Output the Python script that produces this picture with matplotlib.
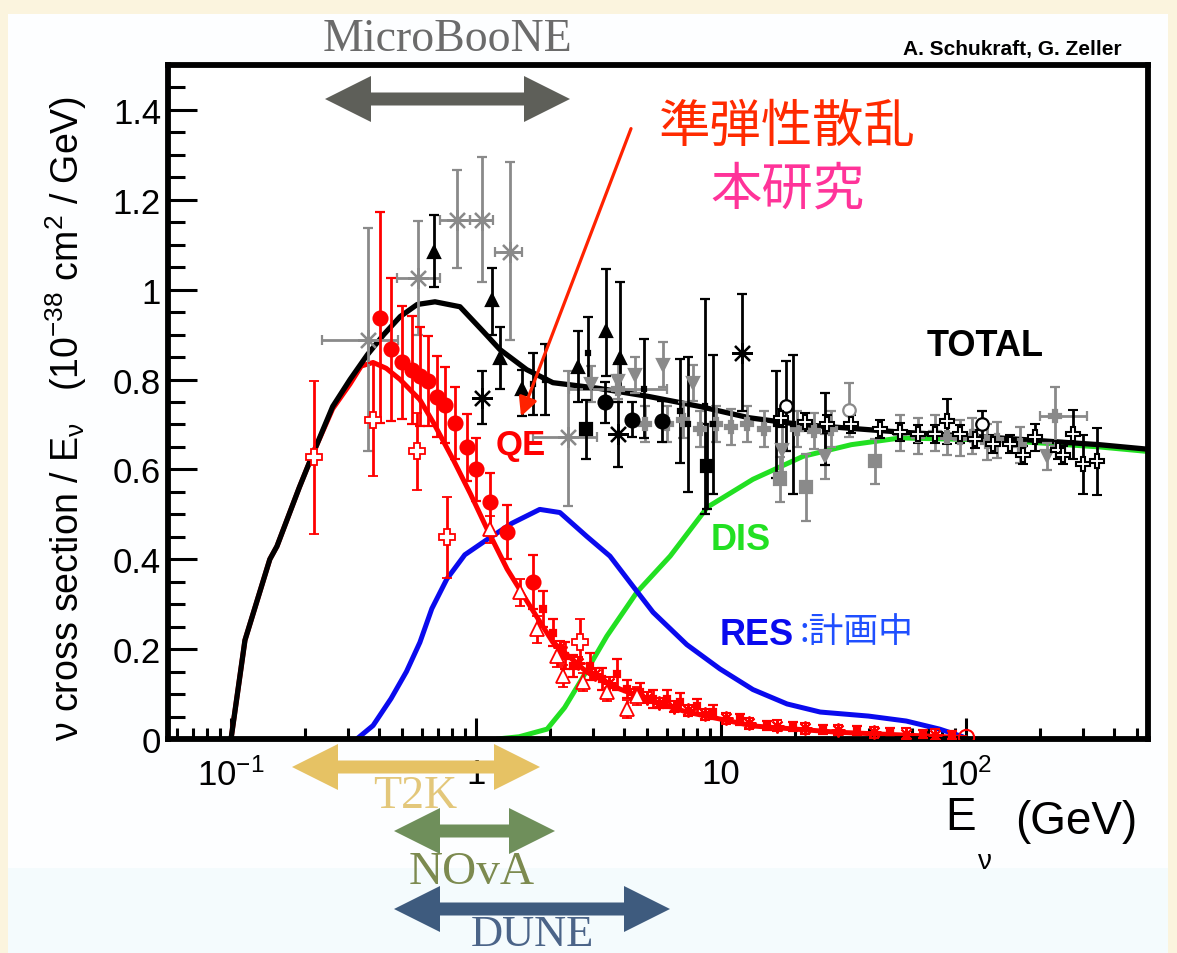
import numpy as np
import matplotlib
matplotlib.use("Agg")
import matplotlib.pyplot as plt
from matplotlib.patches import Polygon, Rectangle
from matplotlib.ticker import FixedLocator, FixedFormatter, LogLocator, MultipleLocator, NullFormatter

plt.rcParams['font.family'] = ['Liberation Sans', 'DejaVu Sans']
plt.rcParams['mathtext.fontset'] = 'custom'
plt.rcParams['mathtext.rm'] = 'Liberation Sans'
plt.rcParams['mathtext.it'] = 'Liberation Sans:italic'
plt.rcParams['mathtext.bf'] = 'Liberation Sans:bold'

W, H = 1177, 954

# --- model curves (E in GeV, sigma/E in 1e-38 cm^2/GeV) ---
total_x = [0.100, 0.114, 0.144, 0.154, 0.19, 0.216, 0.26, 0.306, 0.36, 0.42, 0.49, 0.575, 0.68,
           0.86, 1.07, 1.25, 1.61, 2.06, 3.2, 5.1, 8.2, 13, 21, 54, 137, 350, 550]
total_y = [0.0, 0.22, 0.40, 0.429, 0.56, 0.635, 0.74, 0.80, 0.855, 0.90, 0.94, 0.967, 0.973,
           0.962, 0.907, 0.867, 0.822, 0.793, 0.78, 0.762, 0.74, 0.715, 0.70, 0.683, 0.67, 0.655, 0.645]

qe_x = [0.100, 0.114, 0.144, 0.154, 0.19, 0.216, 0.26, 0.306, 0.34, 0.38, 0.43, 0.49, 0.59, 0.67,
        0.81, 0.95, 1.11, 1.34, 1.66, 2.06, 2.83, 3.87, 5.2, 7.25, 13.5, 30, 60, 100]
qe_y = [0.0, 0.22, 0.40, 0.429, 0.56, 0.635, 0.735, 0.79, 0.83, 0.838, 0.825, 0.80, 0.755, 0.704,
        0.62, 0.545, 0.467, 0.378, 0.296, 0.215, 0.149, 0.111, 0.085, 0.06, 0.029, 0.015, 0.008, 0.003]

res_x = [0.326, 0.38, 0.45, 0.52, 0.59, 0.66, 0.76, 0.9, 1.11, 1.4, 1.82, 2.2, 2.83, 3.52, 4.37,
         5.28, 7.25, 9.9, 13.5, 18.6, 25.4, 40, 57, 78, 97]
res_y = [0.0, 0.03, 0.09, 0.15, 0.215, 0.29, 0.356, 0.41, 0.444, 0.48, 0.511, 0.504, 0.451, 0.407,
         0.34, 0.282, 0.21, 0.156, 0.11, 0.078, 0.06, 0.051, 0.04, 0.022, 0.005]

dis_x = [1.22, 1.5, 1.95, 2.3, 2.66, 3.42, 4.54, 6.2, 8.8, 13.5, 21.6, 34, 54, 137, 350, 550]
dis_y = [0.0, 0.005, 0.022, 0.07, 0.127, 0.229, 0.327, 0.407, 0.516, 0.578, 0.629, 0.655, 0.67,
         0.665, 0.65, 0.64]

# --- QE data (red) ---
red_circ_x = [0.406, 0.45, 0.50, 0.548, 0.59, 0.637, 0.693, 0.747, 0.82, 0.918, 1.0, 1.14, 1.34, 1.71]
red_circ_y = [0.938, 0.867, 0.838, 0.822, 0.807, 0.796, 0.762, 0.744, 0.704, 0.649, 0.600, 0.527, 0.460, 0.349]
red_circ_e = [0.235, 0.16, 0.125, 0.12, 0.11, 0.10, 0.09, 0.085, 0.08, 0.075, 0.07, 0.065, 0.06, 0.06]

red_ocross_x = [0.218, 0.38, 0.575, 0.76, 2.66]
red_ocross_y = [0.627, 0.711, 0.640, 0.449, 0.216]
red_ocross_e = [0.17, 0.125, 0.085, 0.09, 0.05]

red_otri_x = [1.14, 1.51, 1.77, 2.14, 2.26, 2.73, 3.42, 4.13, 4.54]
red_otri_y = [0.467, 0.327, 0.244, 0.185, 0.140, 0.127, 0.104, 0.067, 0.096]
red_otri_e = [0.03, 0.03, 0.03, 0.025, 0.025, 0.02, 0.02, 0.02, 0.02]

red_sq_x = [1.88, 2.06, 2.31, 2.49, 2.92, 3.27, 3.76, 4.13, 4.67, 5.28, 6.0, 6.8, 8.0, 9.3,
            11.9, 15.4, 19.7, 26.1, 35.8, 49, 67, 88]
red_sq_y = [0.289, 0.237, 0.185, 0.162, 0.162, 0.133, 0.144, 0.111, 0.104, 0.089, 0.089, 0.082,
            0.073, 0.060, 0.044, 0.029, 0.027, 0.022, 0.018, 0.016, 0.011, 0.009]
red_sq_e = [0.04, 0.03, 0.03, 0.025, 0.03, 0.025, 0.035, 0.02, 0.02, 0.02, 0.02, 0.02, 0.015,
            0.015, 0.012, 0.01, 0.01, 0.01, 0.01, 0.008, 0.008, 0.008]

red_star_x = [2.2, 2.6, 3.05, 3.5, 4.4, 5.0, 5.6, 6.4, 7.3, 8.6, 10.5, 13.0, 17.0, 22.0, 30.0, 42.0, 57.0, 75.0]
red_star_y = [0.205, 0.17, 0.145, 0.125, 0.10, 0.092, 0.08, 0.072, 0.064, 0.055, 0.046, 0.035,
              0.03, 0.024, 0.02, 0.015, 0.012, 0.01]

red_ocirc_x = [100]
red_ocirc_y = [0.004]

# --- total cross section data (black) ---
blk_tri_x = [0.674, 1.16, 1.25, 1.54, 2.60, 3.39, 3.87]
blk_tri_y = [1.084, 0.978, 0.849, 0.778, 0.827, 0.907, 0.849]
blk_tri_elo = [0.077, 0.078, 0.071, 0.060, 0.078, 0.100, 0.071]
blk_tri_ehi = [0.083, 0.071, 0.069, 0.044, 0.080, 0.140, 0.169]

blk_star_x = [1.06, 3.80, 12.2]
blk_star_y = [0.760, 0.678, 0.860]
blk_star_e = [0.06, 0.072, 0.13]

blk_circ_x = [3.36, 4.33, 5.74]
blk_circ_y = [0.749, 0.711, 0.707]
blk_circ_e = [0.045, 0.04, 0.045]

blk_sq_x = [2.81, 8.77]
blk_sq_y = [0.689, 0.607]
blk_sq_e = [0.065, 0.095]

blk_bar_x = [1.71, 1.91, 2.87, 4.85, 6.8, 7.34, 8.6, 9.27, 16.7, 19.7, 26.5]
blk_bar_y = [0.79, 0.80, 0.86, 0.78, 0.73, 0.70, 0.74, 0.70, 0.70, 0.70, 0.69]
blk_bar_e = [0.07, 0.08, 0.08, 0.11, 0.115, 0.15, 0.24, 0.155, 0.12, 0.155, 0.08]

blk_ocross_x = [17.5, 22, 27, 34, 44.6, 53.7, 63.6, 74.8, 83.9, 94.6, 108.9, 128.8, 151, 171,
                191, 237, 248, 272, 299, 342]
blk_ocross_y = [0.715, 0.705, 0.70, 0.70, 0.689, 0.684, 0.678, 0.678, 0.707, 0.678, 0.667, 0.656,
                0.656, 0.633, 0.671, 0.644, 0.633, 0.678, 0.611, 0.618]
blk_ocross_e = [0.02, 0.02, 0.02, 0.02, 0.02, 0.02, 0.02, 0.02, 0.05, 0.02, 0.02, 0.02, 0.02,
                0.02, 0.03, 0.02, 0.02, 0.055, 0.065, 0.075]

blk_ocirc_x = [18.4, 116]
blk_ocirc_y = [0.742, 0.700]
blk_ocirc_e = [0.10, 0.03]

# --- total cross section data (gray) ---
gray_star_x = [0.363, 0.58, 0.837, 1.06, 1.38, 2.37]
gray_star_y = [0.889, 1.027, 1.156, 1.156, 1.084, 0.671]
gray_star_xlo = [0.235, 0.476, 0.71, 0.945, 1.2, 1.71]
gray_star_xhi = [0.48, 0.71, 0.945, 1.17, 1.54, 3.12]
gray_star_ylo = [0.640, 0.900, 1.049, 1.018, 0.889, 0.518]
gray_star_yhi = [1.138, 1.153, 1.267, 1.296, 1.284, 0.818]

gray_wide_x = [3.8, 230]
gray_wide_y = [0.78, 0.718]
gray_wide_xlo = [2.4, 200]
gray_wide_xhi = [6.0, 312]
gray_wide_e = [0.03, 0.065]

gray_dtri_x = [2.95, 3.8, 4.46, 5.8, 7.7, 17.8, 26.5, 214]
gray_dtri_y = [0.79, 0.796, 0.811, 0.833, 0.793, 0.644, 0.629, 0.629]
gray_dtri_e = [0.04, 0.04, 0.04, 0.05, 0.04, 0.05, 0.05, 0.03]

gray_sq_x = [17.4, 22.2, 42.4]
gray_sq_y = [0.578, 0.560, 0.618]
gray_sq_e = [0.05, 0.074, 0.05]

gray_cross_x = [4.9, 6.0, 7.0, 8.2, 9.5, 11.0, 12.8, 15.0, 20.5, 24, 28, 53.7, 63.6, 74.8, 83.9,
                94.6, 106, 122, 134, 166]
gray_cross_y = [0.70, 0.70, 0.71, 0.69, 0.70, 0.695, 0.70, 0.69, 0.69, 0.685, 0.69, 0.68, 0.675,
                0.68, 0.672, 0.67, 0.675, 0.66, 0.665, 0.655]
gray_cross_e = [0.04, 0.04, 0.04, 0.04, 0.04, 0.04, 0.04, 0.04, 0.04, 0.04, 0.04, 0.04, 0.04,
                0.04, 0.04, 0.04, 0.04, 0.04, 0.04, 0.04]

gray_ocirc_x = [33.3]
gray_ocirc_y = [0.733]
gray_ocirc_e = [0.06]

xtick_vals = [0.1, 1, 10, 100]
xtick_labels = [r'$10^{-1}$', '1', '10', r'$10^{2}$']
ytick_vals = [0, 0.2, 0.4, 0.6, 0.8, 1.0, 1.2, 1.4]
ytick_labels = ['0', '0.2', '0.4', '0.6', '0.8', '1', '1.2', '1.4']

RED = '#ff0000'
GRAY = '#8a8a8a'
STAR = (8, 2, 0)


def fpos(x, y):
    # pixel position measured from the top-left corner -> figure fraction
    return x / W, 1 - y / H


def double_arrow(fig, x0, x1, yc, color, body=13, head_h=46, head_len=46):
    pts = [(x0, yc), (x0 + head_len, yc - head_h / 2), (x0 + head_len, yc - body / 2),
           (x1 - head_len, yc - body / 2), (x1 - head_len, yc - head_h / 2), (x1, yc),
           (x1 - head_len, yc + head_h / 2), (x1 - head_len, yc + body / 2),
           (x0 + head_len, yc + body / 2), (x0 + head_len, yc + head_h / 2)]
    poly = Polygon([fpos(px, py) for px, py in pts], closed=True, transform=fig.transFigure,
                   facecolor=color, edgecolor='none', zorder=10)
    fig.patches.append(poly)


def errbars(ax, x, y, yerr, color, marker, ms, mfc=None, xerr=None, mew=1.6, z=4):
    ax.errorbar(x, y, yerr=yerr, xerr=xerr, fmt='', marker=marker, linestyle='none',
                color=color, ms=ms, mfc=color if mfc is None else mfc, mec=color, mew=mew,
                elinewidth=2.0, capsize=3.5, capthick=2.0, zorder=z)


fig = plt.figure(figsize=(W / 100, H / 100), dpi=100)
fig.patch.set_facecolor('#fbf4de')
fig.patches.append(Rectangle(fpos(8, 954), 1160 / W, 939 / H, transform=fig.transFigure,
                             facecolor='#fdfeff', edgecolor='none', zorder=-5))
fig.patches.append(Rectangle(fpos(8, 954), 1160 / W, 85 / H, transform=fig.transFigure,
                             facecolor='#f4fbfd', edgecolor='none', zorder=-4))

ax = fig.add_axes([168 / W, 1 - 740 / H, (1148 - 168) / W, (740 - 66) / H])
ax.set_facecolor('white')
ax.set_xscale('log')
ax.set_xlim(0.0553, 553)
ax.set_ylim(0, 1.5)

# model curves
ax.plot(dis_x, dis_y, color='#22e022', lw=3.6, zorder=2, solid_capstyle='round')
ax.plot(res_x, res_y, color='#0a0aee', lw=3.6, zorder=2, solid_capstyle='round')
ax.plot(qe_x, qe_y, color=RED, lw=3.6, zorder=2.5, solid_capstyle='round')
ax.plot(total_x, total_y, color='black', lw=3.8, zorder=3, solid_capstyle='round')

# gray data
errbars(ax, gray_cross_x, gray_cross_y, gray_cross_e, GRAY, 'P', 8)
errbars(ax, gray_dtri_x, gray_dtri_y, gray_dtri_e, GRAY, 'v', 9)
errbars(ax, gray_sq_x, gray_sq_y, gray_sq_e, GRAY, 's', 9)
errbars(ax, gray_ocirc_x, gray_ocirc_y, gray_ocirc_e, GRAY, 'o', 9, mfc='white')
gx = np.array(gray_star_x)
gy = np.array(gray_star_y)
errbars(ax, gx, gy, [gy - np.array(gray_star_ylo), np.array(gray_star_yhi) - gy], GRAY, STAR, 15,
        xerr=[gx - np.array(gray_star_xlo), np.array(gray_star_xhi) - gx], mew=1.6)
wx = np.array(gray_wide_x)
errbars(ax, wx, gray_wide_y, gray_wide_e, GRAY, 'P', 8,
        xerr=[wx - np.array(gray_wide_xlo), np.array(gray_wide_xhi) - wx])

# black data
errbars(ax, blk_bar_x, blk_bar_y, blk_bar_e, 'black', 's', 3)
errbars(ax, blk_tri_x, blk_tri_y, [blk_tri_elo, blk_tri_ehi], 'black', '^', 9)
errbars(ax, blk_star_x, blk_star_y, blk_star_e, 'black', STAR, 15, mew=1.6)
errbars(ax, blk_circ_x, blk_circ_y, blk_circ_e, 'black', 'o', 10)
errbars(ax, blk_sq_x, blk_sq_y, blk_sq_e, 'black', 's', 9)
errbars(ax, blk_ocirc_x, blk_ocirc_y, blk_ocirc_e, 'black', 'o', 9, mfc='white')
errbars(ax, blk_ocross_x, blk_ocross_y, blk_ocross_e, 'black', 'P', 10, mfc='white', mew=1.5)

# red QE data
errbars(ax, red_star_x, red_star_y, 0.012, RED, STAR, 10, mew=1.5)
errbars(ax, red_sq_x, red_sq_y, red_sq_e, RED, 's', 5)
errbars(ax, red_otri_x, red_otri_y, red_otri_e, RED, '^', 10, mfc='white', mew=1.3)
errbars(ax, red_ocross_x, red_ocross_y, red_ocross_e, RED, 'P', 11, mfc='white', mew=1.3)
errbars(ax, red_circ_x, red_circ_y, red_circ_e, RED, 'o', 10)
ax.plot(red_ocirc_x, red_ocirc_y, 'o', ms=11, mfc='none', mec=RED, mew=1.5, zorder=4)

# axes styling (ROOT look)
for sp in ax.spines.values():
    sp.set_linewidth(4.2)
ax.xaxis.set_major_locator(FixedLocator(xtick_vals))
ax.xaxis.set_major_formatter(FixedFormatter(xtick_labels))
ax.xaxis.set_minor_locator(LogLocator(base=10, subs=np.arange(2, 10)))
ax.xaxis.set_minor_formatter(NullFormatter())
ax.yaxis.set_major_locator(FixedLocator(ytick_vals))
ax.yaxis.set_major_formatter(FixedFormatter(ytick_labels))
ax.yaxis.set_minor_locator(MultipleLocator(0.05))
ax.tick_params(axis='both', which='both', direction='in', top=False, right=False, width=2.2)
ax.tick_params(axis='x', which='major', length=15, pad=13, labelsize=25)
ax.tick_params(axis='x', which='minor', length=8)
ax.tick_params(axis='y', which='major', length=21, pad=5, labelsize=25)
ax.tick_params(axis='y', which='minor', length=12)

# axis titles
fig.text(*fpos(961, 818), 'E', fontsize=33, ha='center', va='center')
fig.text(*fpos(985, 862), 'ν', fontsize=20, ha='center', va='center')
fig.text(*fpos(1137, 822), '(GeV)', fontsize=33, ha='right', va='center')
fig.text(*fpos(66, 418), r'ν cross section / E$_{\mathrm{ν}}$   (10$^{-38}$ cm$^{2}$ / GeV)',
         fontsize=27, rotation=90, ha='center', va='center')

# credits and labels
fig.text(*fpos(1122, 50), 'A. Schukraft, G. Zeller', fontsize=15, fontweight='bold',
         ha='right', va='center')
fig.text(*fpos(985, 347), 'TOTAL', fontsize=26, fontweight='bold', ha='center', va='center')
fig.text(*fpos(741, 540), 'DIS', fontsize=26, fontweight='bold', ha='center', va='center',
         color='#22e022')
fig.text(*fpos(720, 636), 'RES', fontsize=26, fontweight='bold', ha='left', va='center',
         color='#0a0aee')
fig.text(*fpos(799, 633), ':計画中', fontsize=25, ha='left', va='center', color='#1f4fff',
         family=['Noto Sans CJK JP', 'DejaVu Sans'])
fig.text(*fpos(521, 445), 'QE', fontsize=25, fontweight='bold', ha='center', va='center', color=RED)
fig.text(*fpos(787, 127), '準弾性散乱', fontsize=37, ha='center', va='center', color='#ff2a00',
         family=['Noto Sans CJK JP', 'DejaVu Sans'])
fig.text(*fpos(787, 190), '本研究', fontsize=37, ha='center', va='center', color='#ff3399',
         family=['Noto Sans CJK JP', 'DejaVu Sans'])
ax.annotate('', xy=(520, H - 420), xytext=(632, H - 127), xycoords='figure pixels',
            textcoords='figure pixels',
            arrowprops=dict(arrowstyle='-|>', color='#ff2200', lw=2.3, mutation_scale=28),
            zorder=10)

# experiment energy ranges
fig.text(*fpos(448, 40), 'MicroBooNE', fontsize=33, family='Liberation Serif', ha='center',
         va='center', color='#6b6b6b')
double_arrow(fig, 325, 570, 100, '#5e5f59')
double_arrow(fig, 292, 540, 768, '#e6c264')
fig.text(*fpos(415, 797), 'T2K', fontsize=33, family='Liberation Serif', ha='center',
         va='center', color='#e3c77a', zorder=11)
double_arrow(fig, 394, 555, 832, '#6f8f5b')
fig.text(*fpos(472, 873), 'NOvA', fontsize=34, family='Liberation Serif', ha='center',
         va='center', color='#7c8a4f', zorder=11)
double_arrow(fig, 394, 670, 910, '#3e5b7e')
fig.text(*fpos(532, 935), 'DUNE', fontsize=32, family='Liberation Serif', ha='center',
         va='center', color='#4b6488', zorder=11)

fig.savefig('out.png', dpi=100, facecolor=fig.get_facecolor())
